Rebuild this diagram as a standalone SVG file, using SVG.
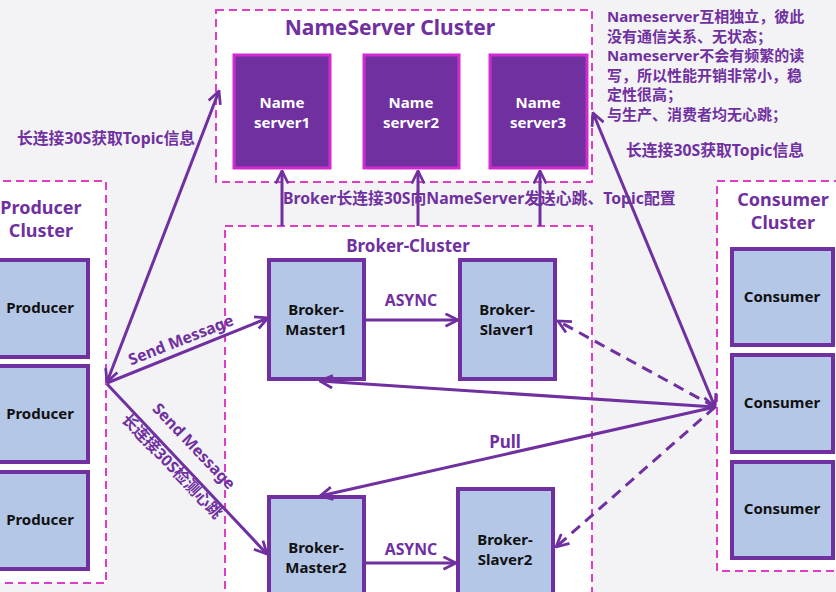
<svg xmlns="http://www.w3.org/2000/svg" width="836" height="592" viewBox="0 0 836 592">
<defs>
<style>
text{font-family:"Noto Sans","Noto Sans CJK SC",sans-serif;font-weight:bold}
.cl{fill:#fff;stroke:#E03CC8;stroke-width:2;stroke-dasharray:8 5}
.ns{fill:#7030A0;stroke:#D22AD0;stroke-width:3}
.bx{fill:#B4C7E7;stroke:#7030A0;stroke-width:4}
.pt{fill:#7030A0}
.wt{fill:#fff;font-size:15px}
.bt{fill:#111;font-size:15px}
.ln{fill:none;stroke:#7030A0;stroke-width:3}
.dl{fill:none;stroke:#7030A0;stroke-width:3;stroke-dasharray:11 7}
</style>
<marker id="ah" viewBox="0 0 12 12" refX="11" refY="6" markerWidth="5" markerHeight="5" markerUnits="strokeWidth" orient="auto-start-reverse">
<path d="M1,1 L11,6 L1,11" fill="none" stroke="#7030A0" stroke-width="2.2"/>
</marker>
</defs>
<rect width="836" height="592" fill="#F3F3F5"/>

<g id="nameserver-cluster">
<rect class="cl" x="216" y="10" width="376" height="172"/>
<text class="pt" x="390" y="35" font-size="21" text-anchor="middle">NameServer Cluster</text>
</g>
<g id="ns1"><rect class="ns" x="234" y="55" width="96" height="113"/><text class="wt" text-anchor="middle" x="282" y="108">Name</text><text class="wt" text-anchor="middle" x="282" y="128">server1</text></g>
<g id="ns2"><rect class="ns" x="364" y="55" width="95" height="113"/><text class="wt" text-anchor="middle" x="411" y="108">Name</text><text class="wt" text-anchor="middle" x="411" y="128">server2</text></g>
<g id="ns3"><rect class="ns" x="490" y="55" width="97" height="113"/><text class="wt" text-anchor="middle" x="538" y="108">Name</text><text class="wt" text-anchor="middle" x="538" y="128">server3</text></g>

<g id="note" class="pt" font-size="15">
<text x="607" y="22">Nameserver互相独立，彼此</text>
<text x="607" y="41.5">没有通信关系、无状态；</text>
<text x="607" y="61">Nameserver不会有频繁的读</text>
<text x="607" y="80.5">写，所以性能开销非常小，稳</text>
<text x="607" y="100">定性很高；</text>
<text x="607" y="119.5">与生产、消费者均无心跳；</text>
</g>

<g id="producer-cluster">
<rect class="cl" x="-10" y="181" width="116" height="402"/>
<text class="pt" x="41" y="214" font-size="18" text-anchor="middle">Producer</text>
<text class="pt" x="41" y="237" font-size="18" text-anchor="middle">Cluster</text>
</g>
<g id="producer1"><rect class="bx" x="-10" y="260" width="98" height="97"/><text class="bt" x="40" y="313" text-anchor="middle">Producer</text></g>
<g id="producer2"><rect class="bx" x="-10" y="366" width="98" height="96"/><text class="bt" x="40" y="419" text-anchor="middle">Producer</text></g>
<g id="producer3"><rect class="bx" x="-10" y="472" width="98" height="97"/><text class="bt" x="40" y="525" text-anchor="middle">Producer</text></g>

<g id="broker-cluster">
<rect class="cl" x="225" y="226" width="367" height="380"/>
<text class="pt" x="408" y="252" font-size="17" text-anchor="middle">Broker-Cluster</text>
</g>
<g id="master1"><rect class="bx" x="269" y="260" width="95" height="119"/><text class="bt" x="316" y="315" text-anchor="middle">Broker-</text><text class="bt" x="316" y="335" text-anchor="middle">Master1</text></g>
<g id="slaver1"><rect class="bx" x="460" y="260" width="95" height="119"/><text class="bt" x="507" y="315" text-anchor="middle">Broker-</text><text class="bt" x="507" y="335" text-anchor="middle">Slaver1</text></g>
<g id="master2"><rect class="bx" x="269" y="497" width="95" height="110"/><text class="bt" x="316" y="553" text-anchor="middle">Broker-</text><text class="bt" x="316" y="573" text-anchor="middle">Master2</text></g>
<g id="slaver2"><rect class="bx" x="458" y="489" width="95" height="118"/><text class="bt" x="505" y="545" text-anchor="middle">Broker-</text><text class="bt" x="505" y="565" text-anchor="middle">Slaver2</text></g>

<g id="consumer-cluster">
<rect class="cl" x="717" y="181" width="130" height="390"/>
<text class="pt" x="783" y="206" font-size="18" text-anchor="middle">Consumer</text>
<text class="pt" x="783" y="229" font-size="18" text-anchor="middle">Cluster</text>
</g>
<g id="consumer1"><rect class="bx" x="732" y="249" width="101" height="96"/><text class="bt" x="782" y="302" text-anchor="middle">Consumer</text></g>
<g id="consumer2"><rect class="bx" x="732" y="355" width="101" height="97"/><text class="bt" x="782" y="408" text-anchor="middle">Consumer</text></g>
<g id="consumer3"><rect class="bx" x="732" y="462" width="101" height="96"/><text class="bt" x="782" y="514" text-anchor="middle">Consumer</text></g>

<g id="connectors">
<line class="ln" x1="282" y1="226" x2="282" y2="171" marker-end="url(#ah)"/>
<line class="ln" x1="418" y1="226" x2="418" y2="171" marker-end="url(#ah)"/>
<line class="ln" x1="540" y1="226" x2="540" y2="171" marker-end="url(#ah)"/>
<line class="ln" x1="107" y1="382" x2="219" y2="91" marker-start="url(#ah)" marker-end="url(#ah)"/>
<line class="ln" x1="107" y1="383" x2="268" y2="318" marker-end="url(#ah)"/>
<line class="ln" x1="107" y1="384" x2="267" y2="554" marker-end="url(#ah)"/>
<line class="ln" x1="364" y1="320" x2="458" y2="320" marker-end="url(#ah)"/>
<line class="ln" x1="364" y1="563" x2="456" y2="563" marker-end="url(#ah)"/>
<line class="ln" x1="715" y1="407" x2="593" y2="113" marker-start="url(#ah)" marker-end="url(#ah)"/>
<line class="ln" x1="715" y1="407" x2="320" y2="381" marker-end="url(#ah)"/>
<line class="ln" x1="715" y1="407" x2="320" y2="496" marker-end="url(#ah)"/>
<line class="dl" x1="715" y1="407" x2="558" y2="321" marker-end="url(#ah)"/>
<line class="dl" x1="715" y1="407" x2="556" y2="547" marker-end="url(#ah)"/>
</g>

<g id="labels" class="pt" font-size="15.8">
<text x="17" y="144">长连接30S获取Topic信息</text>
<text x="626" y="156">长连接30S获取Topic信息</text>
<text x="283" y="204">Broker长连接30S向NameServer发送心跳、Topic配置</text>
<text x="411" y="306" text-anchor="middle">ASYNC</text>
<text x="411" y="555" text-anchor="middle">ASYNC</text>
<text x="505" y="448" text-anchor="middle" font-size="17">Pull</text>
<text transform="translate(183,345) rotate(-21.5)" text-anchor="middle">Send Message</text>
<text transform="translate(190,450) rotate(46.5)" text-anchor="middle">Send Message</text>
<text transform="translate(168,470) rotate(46.5)" text-anchor="middle">长连接30S检测心跳</text>
</g>
</svg>
